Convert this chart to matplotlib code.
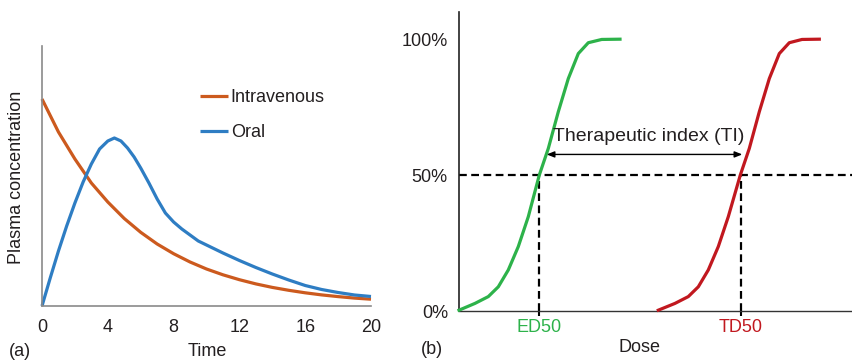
import matplotlib
matplotlib.use("Agg")
import matplotlib.pyplot as plt

plt.rcParams['font.family'] = ['Liberation Sans', 'DejaVu Sans']

# ---- panel (a) data ----
iv_time = [0, 1, 2, 3, 4, 5, 6, 7, 8, 9, 10, 11, 12, 13, 14, 15, 16, 17, 18, 19, 20]
iv_conc = [207, 174, 147, 123, 104, 87.5, 73.7, 62, 52.3, 44, 37, 31.2, 26.3, 22.1, 18.6,
           15.7, 13.2, 11.1, 9.4, 7.9, 6.8]
oral_time = [0, 0.5, 1, 1.5, 2, 2.5, 3, 3.5, 4, 4.4, 4.8, 5.2, 5.6, 6, 6.5, 7, 7.5, 8, 8.5,
             9, 9.5, 10, 11, 12, 13, 14, 15, 16, 17, 18, 19, 20]
oral_conc = [0, 28, 55, 80, 103, 124, 142, 157, 165, 168, 165, 158, 149, 138, 123, 107, 93,
             84, 77, 71, 65, 61, 53, 45.5, 38.5, 32, 26, 20.5, 16.5, 13.5, 11, 9.5]
time_ticks = [0, 4, 8, 12, 16, 20]

# ---- panel (b) data ----
ed_dose = [0, 1.6, 2.93, 3.93, 4.93, 5.93, 6.93, 8.03, 8.93, 9.93, 10.93, 11.93, 12.93, 14.27, 16.1]
ed_resp = [0.3, 2.8, 5.3, 8.9, 15.1, 23.7, 34.7, 50, 59.8, 73.3, 85.5, 94.7, 98.7, 99.9, 100]
td_dose = [19.93, 21.6, 22.93, 23.93, 24.93, 25.93, 26.93, 28.13, 29.03, 30.03, 31.03, 32.03,
           33.03, 34.3, 36.03]
td_resp = [0.3, 2.8, 5.3, 8.9, 15.1, 23.7, 34.7, 50, 59.8, 73.3, 85.5, 94.7, 98.7, 99.9, 100]
ed50 = 8.03
td50 = 28.2
resp_ticks = [0, 50, 100]
resp_labels = ['0%', '50%', '100%']

TXT = '#231F20'
ORANGE = '#CC5A1E'
BLUE = '#2E7DC3'
GREEN = '#2DB24A'
RED = '#C1181F'
FS = 13

W, H = 852, 361
fig = plt.figure(figsize=(W / 100, H / 100), dpi=100)

# ---------- panel (a) ----------
ax1 = fig.add_axes([42 / W, (H - 306) / H, (371 - 42) / W, (306 - 46) / H])
ax1.plot(iv_time, iv_conc, color=ORANGE, lw=2.3, label='Intravenous', clip_on=False,
         solid_capstyle='butt', solid_joinstyle='round')
ax1.plot(oral_time, oral_conc, color=BLUE, lw=2.3, label='Oral', clip_on=False,
         solid_capstyle='butt', solid_joinstyle='round')
ax1.set_xlim(0, 20)
ax1.set_ylim(0, 260)
for s in ['top', 'right']:
    ax1.spines[s].set_visible(False)
ax1.spines['left'].set_color('#8a8a8a')
ax1.spines['bottom'].set_color('#8a8a8a')
ax1.spines['left'].set_linewidth(1.2)
ax1.spines['bottom'].set_linewidth(1.2)
ax1.set_xticks(time_ticks)
ax1.set_yticks([])
ax1.tick_params(axis='x', length=0, pad=9, labelsize=FS, labelcolor=TXT)
leg = ax1.legend(loc='upper left', bbox_to_anchor=(200 / W, 1 - 89 / H),
                 bbox_transform=fig.transFigure, frameon=False, fontsize=FS,
                 handlelength=1.55, handletextpad=0.15, labelspacing=1.0,
                 borderpad=0, borderaxespad=0)
for t in leg.get_texts():
    t.set_color(TXT)

fig.text(17 / W, 1 - 177 / H, 'Plasma concentration', rotation=90, ha='center', va='center',
         fontsize=FS, color=TXT)
fig.text(207 / W, 1 - 352 / H, 'Time', ha='center', va='center', fontsize=FS, color=TXT)
fig.text(20 / W, 1 - 352 / H, '(a)', ha='center', va='center', fontsize=FS, color=TXT)

# ---------- panel (b) ----------
ax2 = fig.add_axes([459 / W, (H - 311) / H, (852 - 459) / W, (311 - 12) / H])
ax2.plot(ed_dose, ed_resp, color=GREEN, lw=2.3, clip_on=False, zorder=3,
         solid_joinstyle='round')
ax2.plot(td_dose, td_resp, color=RED, lw=2.3, clip_on=False, zorder=3,
         solid_joinstyle='round')
ax2.set_xlim(0, 39.3)
ax2.set_ylim(0, 110)
for s in ['top', 'right']:
    ax2.spines[s].set_visible(False)
ax2.spines['left'].set_color('#222222')
ax2.spines['bottom'].set_color('#333333')
ax2.spines['left'].set_linewidth(1.2)
ax2.spines['bottom'].set_linewidth(1.0)

dash = (3.5, 2.0)
ax2.axhline(50, color='black', lw=1.6, linestyle=(0, dash), zorder=2)
ax2.plot([ed50, ed50], [0, 50], color='black', lw=1.6, linestyle=(0, dash), zorder=2)
ax2.plot([td50, td50], [0, 50], color='black', lw=1.6, linestyle=(0, dash), zorder=2)

ax2.set_yticks(resp_ticks)
ax2.set_yticklabels(resp_labels)
ax2.tick_params(axis='y', length=0, pad=8, labelsize=FS, labelcolor=TXT)
ax2.set_xticks([ed50, td50])
ax2.set_xticklabels(['ED50', 'TD50'])
ax2.tick_params(axis='x', length=3.5, width=1.5, pad=2, labelsize=FS, color='black')
xl = ax2.get_xticklabels()
xl[0].set_color(GREEN)
xl[1].set_color(RED)

ax2.annotate('', xy=(8.77, 57.6), xytext=(28.33, 57.6),
             arrowprops=dict(arrowstyle='<|-|>,head_length=0.45,head_width=0.18',
                             color='black', lw=1.0, shrinkA=0, shrinkB=0))
ax2.text(18.93, 64.1, 'Therapeutic index (TI)', ha='center', va='center',
         fontsize=14, color=TXT, zorder=4)

fig.text(639 / W, 1 - 348 / H, 'Dose', ha='center', va='center', fontsize=FS, color=TXT)
fig.text(432 / W, 1 - 350 / H, '(b)', ha='center', va='center', fontsize=FS, color=TXT)

fig.savefig('out.png', dpi=100)
